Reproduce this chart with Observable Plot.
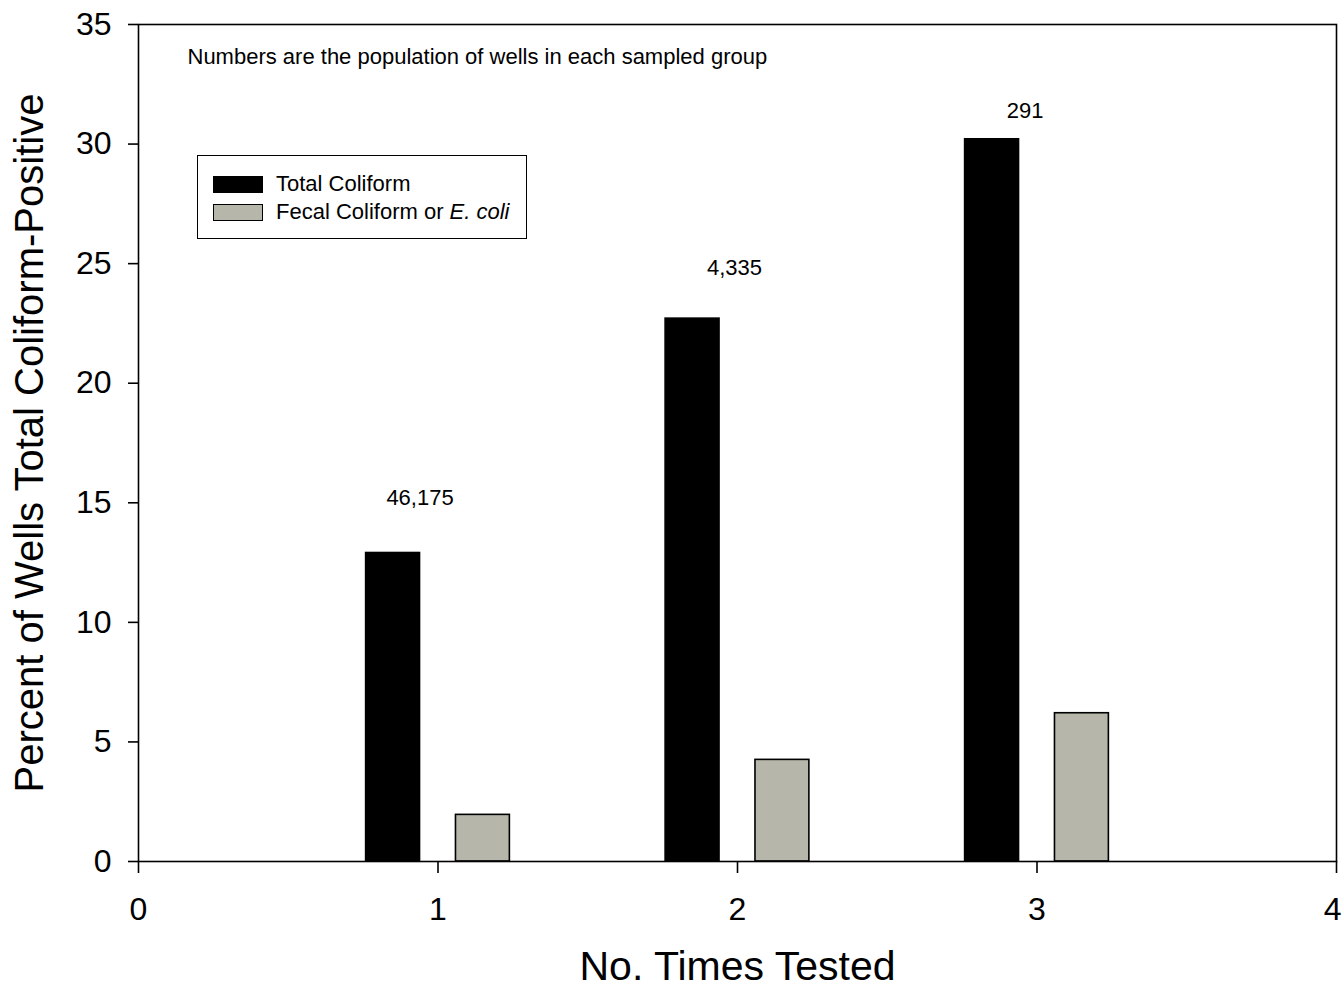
<!DOCTYPE html>
<html>
<head>
<meta charset="utf-8">
<script src="https://cdn.jsdelivr.net/npm/d3@7"></script>
<script src="https://cdn.jsdelivr.net/npm/@observablehq/plot@0.6"></script>
<style>
  html, body { margin: 0; padding: 0; background: #fff; }
  #wrap { position: relative; width: 1343px; height: 988px; font-family: "Liberation Sans", Arial, sans-serif; }
  #legend { position: absolute; left: 197px; top: 155px; width: 328px; height: 82px; border: 1.5px solid #000; background: #fff; box-sizing: content-box; }
  .li { position: absolute; left: 15px; display: flex; align-items: center; font-size: 22px; color: #000; }
  .sw { width: 48px; height: 15px; border: 1.2px solid #000; margin-right: 13px; }
</style>
</head>
<body>
<div id="wrap"></div>
<script>
// ---- data ----
const timesTested = [1, 2, 3];
const totalColiform = [12.9, 22.7, 30.2];
const fecalColiform = [1.95, 4.25, 6.2];
const populations = ["46,175", "4,335", "291"];
const populationLabelX = [0.94, 1.99, 2.96];
const populationLabelY = [15.2, 24.8, 31.4];
const xTicks = [0, 1, 2, 3, 4];
const yTicks = [0, 5, 10, 15, 20, 25, 30, 35];
const seriesNames = ["Total Coliform", "Fecal Coliform or E. coli"];
const seriesColors = ["#000000", "#b6b6aa"];

// ---- build table ----
const barOffset = [-0.15, 0.15];
const halfWidth = 0.09;
const bars = [];
timesTested.forEach((t, i) => {
  [totalColiform[i], fecalColiform[i]].forEach((v, s) => {
    bars.push({t, series: seriesNames[s], value: v, x1: t + barOffset[s] - halfWidth, x2: t + barOffset[s] + halfWidth});
  });
});
const labels = timesTested.map((t, i) => ({x: populationLabelX[i], y: populationLabelY[i], text: populations[i]}));
const lastTick = xTicks[xTicks.length - 1];

const chart = Plot.plot({
  width: 1343,
  height: 988,
  marginLeft: 138,
  marginRight: 7,
  marginTop: 24,
  marginBottom: 127,
  style: {fontFamily: "'Liberation Sans', Arial, sans-serif", background: "#fff", color: "#000"},
  x: {domain: [0, 4]},
  y: {domain: [0, 35]},
  color: {domain: seriesNames, range: seriesColors},
  marks: [
    Plot.rectY(bars, {x1: "x1", x2: "x2", y1: 0, y2: "value", fill: "series", stroke: "#000", strokeWidth: 1.6}),
    Plot.text(labels, {x: "x", y: "y", text: "text", fontSize: 22, fill: "#000"}),
    Plot.text(["Numbers are the population of wells in each sampled group"], {frameAnchor: "top-left", dx: 49, dy: 24, textAnchor: "start", fontSize: 22, fill: "#000"}),
    Plot.frame({stroke: "#000", strokeWidth: 1.6}),
    Plot.axisY({ticks: yTicks, tickSize: 10, tickPadding: 17, fontSize: 32, label: null, strokeWidth: 1.6, tickFormat: "d"}),
    Plot.axisX({ticks: xTicks, tickSize: 12, tickPadding: 24, fontSize: 32, label: null, strokeWidth: 1.6,
      tickFormat: d => d === lastTick ? "" : String(d)}),
    Plot.text([lastTick], {x: d => d, frameAnchor: "bottom", textAnchor: "end", lineAnchor: "top", dx: 5, dy: 36, fontSize: 32, fill: "#000", text: d => String(d)}),
    Plot.text(["Percent of Wells Total Coliform-Positive"], {frameAnchor: "left", textAnchor: "middle", dx: -108, rotate: -90, fontSize: 40, fill: "#000"}),
    Plot.text(["No. Times Tested"], {frameAnchor: "bottom", textAnchor: "middle", dy: 118, fontSize: 41, fill: "#000"})
  ]
});

const wrap = document.getElementById("wrap");
wrap.appendChild(chart);

// legend overlay
const legend = document.createElement("div");
legend.id = "legend";
seriesNames.forEach((name, i) => {
  const item = document.createElement("div");
  item.className = "li";
  item.style.top = (i === 0 ? 15 : 43) + "px";
  const sw = document.createElement("div");
  sw.className = "sw";
  sw.style.background = seriesColors[i];
  const lab = document.createElement("span");
  if (name.includes("E. coli")) {
    lab.innerHTML = "Fecal Coliform or <i>E. coli</i>";
  } else {
    lab.textContent = name;
  }
  item.appendChild(sw);
  item.appendChild(lab);
  legend.appendChild(item);
});
wrap.appendChild(legend);
</script>
</body>
</html>
